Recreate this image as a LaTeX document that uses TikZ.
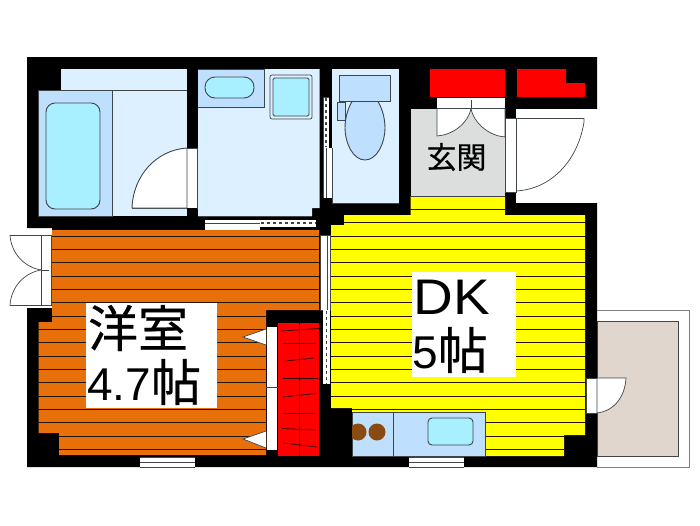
\documentclass[tikz,border=0pt]{standalone}
\usepackage{graphicx}
\usepackage{fontspec}
\setmainfont{Liberation Sans}
\newfontfamily\cjkjp[FakeBold=0.5]{Noto Sans CJK JP}
\definecolor{wetlight}{HTML}{DDF0FF}
\definecolor{wetmid}{HTML}{BFDFFF}
\definecolor{wetaqua}{HTML}{A8F0FF}
\definecolor{orangefloor}{HTML}{E8700A}
\definecolor{yellowfloor}{HTML}{FFFF00}
\definecolor{genkangray}{HTML}{DCDDDD}
\definecolor{balconyfill}{HTML}{E0D6CE}
\definecolor{linegray}{HTML}{404548}
\definecolor{burner}{HTML}{8B4A10}
\tikzset{
  wall/.style={fill=black,draw=none},
  fixture/.style={draw=linegray,line width=0.9pt},
  thinline/.style={draw=linegray,line width=0.7pt},
  boardline/.style={draw=black!85!orange,line width=0.8pt},
  dotline/.style={draw=linegray,line width=1.6pt,dash pattern=on 3pt off 3pt},
  hanger/.style={draw=black!80!red,line width=0.7pt}
}
\begin{document}
\begin{tikzpicture}[x=1pt,y=-1pt]
\useasboundingbox (0,0) rectangle (700,525);
% balcony
\draw[draw=gray,line width=1pt] (597,310) -- (689,310) -- (689,467) -- (597,467);
\draw[thinline,fill=balconyfill] (597,321) rectangle (678,456);
% black slab
\fill[wall] (27,57) -- (597,57) -- (597,109) -- (516,109) -- (516,203) -- (597,203) -- (597,467) -- (27,467) -- (27,308) -- (52,308) -- (52,228) -- (27,228) -- cycle;
% bath
\fill[wetlight] (61,69) rectangle (187,90);
\fill[wetlight] (38.5,90) rectangle (187,216);
\draw[thinline,fill=wetmid] (38.5,90) rectangle (112.5,216);
\draw[thinline] (112.5,90) -- (187,90);
\draw[fixture,fill=wetaqua,rounded corners=9pt] (46,103) rectangle (100,209);
% bath door
\fill[white] (186,148) rectangle (197,208);
\draw[thinline] (197,148) -- (197,208) -- (132,208);
\draw[fixture,fill=white] (187,148) .. controls (156,150) and (133,176) .. (132,208) -- (187,208) -- cycle;
\draw[thinline] (187,148) -- (197,148);
\fill[wall] (187,208) rectangle (197,216);
% washroom
\fill[wetlight] (198,69) -- (319.5,69) -- (319.5,208) -- (312,208) -- (312,216) -- (198,216) -- cycle;
\draw[thinline] (198,216) -- (312,216);
\draw[thinline,fill=wetmid] (198,69) -- (264,69) -- (264,107) -- (198,107);
\draw[fixture,fill=wetaqua,rounded corners=10pt] (205,77) rectangle (254,98);
\draw[thinline,rounded corners=2pt] (270,75) rectangle (312,119);
\draw[fixture,fill=wetaqua,rounded corners=1.5pt] (273,78) rectangle (309,116);
% wash/toilet sliding door
\fill[white] (323,97) rectangle (332,198);
\draw[thinline] (323,97) -- (332,97) (323,97) -- (323,198) (332,148) -- (332,198);
\fill[black] (329,91) rectangle (332,148);
\draw[dotline] (326,98) -- (326,147);
\draw[thinline] (326,148) -- (326,198);
% toilet
\fill[wetlight] (332,69) rectangle (399,203);
\draw[thinline] (332,148) -- (332,203) -- (399,203);
\draw[fixture,fill=wetmid] (365,160) .. controls (353,160) and (345,143) .. (345,128) .. controls (345,116) and (349,106) .. (353,100) -- (377,100) .. controls (381,106) and (385,116) .. (385,128) .. controls (385,143) and (377,160) .. (365,160) -- cycle;
\draw[fixture,fill=wetmid] (339.5,75) rectangle (390,101);
\draw[thinline,fill=wetmid] (337,102) rectangle (345,120);
% closets top
\fill[red] (430,69) rectangle (505,97);
\fill[red] (517,69) -- (566,69) -- (566,83) -- (585,83) -- (585,97) -- (517,97) -- cycle;
% yellow floor
\fill[yellowfloor] (410.5,196) -- (505,196) -- (505,215) -- (585,215) -- (585,435) -- (564,435) -- (564,456) -- (352,456) -- (352,408) -- (331,408) -- (331,225) -- (344,225) -- (344,215) -- (410.5,215) -- cycle;
\begin{scope}
  \clip (410.5,196) -- (505,196) -- (505,215) -- (585,215) -- (585,435) -- (564,435) -- (564,456) -- (352,456) -- (352,408) -- (331,408) -- (331,225) -- (344,225) -- (344,215) -- (410.5,215) -- cycle;
  \foreach \k in {0,...,19}{
    \pgfmathsetmacro{\yy}{196+13.33*\k}
    \draw[boardline] (320,\yy) -- (590,\yy);
  }
\end{scope}
% genkan
\fill[genkangray] (410.5,109) rectangle (505,196);
\draw[thinline] (410.5,196) -- (505,196);
\fill[white] (437,98) rectangle (505,109);
\draw[thinline] (437,108.5) -- (505,108.5);
\draw[thinline] (471,100) -- (471,108.5);
\draw[thinline,fill=white] (437,108.5) -- (437,136) .. controls (452,135) and (468,124) .. (471,108.5) -- cycle;
\draw[thinline,fill=white] (505,108.5) -- (505,137) .. controls (490,136) and (474,124) .. (471,108.5) -- cycle;
\node[font=\cjkjp\fontsize{30}{30}\selectfont,inner sep=0pt] (genkan) at (456.5,157) {玄関};
% entrance door
\fill[white] (516,109) rectangle (597,203);
\fill[white] (505.5,118) rectangle (516,192);
\draw[thinline] (505.5,118) rectangle (516,192);
\draw[thinline] (516,118) -- (584,118);
\draw[thinline] (584,118) -- (584,122) .. controls (578,160) and (552,189) .. (516,191);
% orange floor
\def\orangepath{(52,230) -- (319,230) -- (319,310) -- (266,310) -- (266,455) -- (59,455) -- (59,433) -- (38.5,433) -- (38.5,322) -- (52,322) -- cycle}
\fill[orangefloor] \orangepath;
\begin{scope}
  \clip \orangepath;
  \foreach \k in {3,...,19}{
    \pgfmathsetmacro{\yy}{196+13.33*\k}
    \draw[boardline] (30,\yy) -- (325,\yy);
  }
\end{scope}
% closet
\fill[red] (278,322.5) rectangle (319,456);
\draw[hanger] (299,322.5) -- (299,456);
\draw[hanger] (281,331) -- (319,328.5);
\draw[hanger] (283,343) -- (316,343);
\draw[hanger] (285,361) -- (314,358);
\draw[hanger] (283,378) -- (318,378);
\draw[hanger] (283,397) -- (316,393.5);
\draw[hanger] (283,413.5) -- (315,413.5);
\draw[hanger] (282,428.5) -- (315,430);
\draw[hanger] (283,443) -- (317,447);
\fill[white] (267,326.5) rectangle (277,450);
\draw[thinline] (266,387.5) -- (278,387.5);
\fill[white] (266,329) -- (243,337) -- (266,345) -- cycle;
\draw[thinline] (266,329) -- (243,337) -- (266,345);
\fill[white] (266,431) -- (243,439) -- (266,448) -- cycle;
\draw[thinline] (266,431) -- (243,439) -- (266,448);
% bottom sliding door
\fill[white] (205,220) rectangle (316,226.5);
\fill[white] (205,226) rectangle (260,229.5);
\draw[thinline] (205,223) -- (260,223);
\draw[dotline] (261,223) -- (316,223);
% orange/yellow sliding door
\fill[white] (320,235) rectangle (330,310);
\draw[thinline] (320,235) rectangle (330,310);
\draw[thinline] (327,235) -- (327,310);
\fill[white] (323,310) rectangle (329.5,384);
\draw[dotline] (326.5,311) -- (326.5,384);
% west double door
\fill[white] (41,235) rectangle (51,305);
\draw[thinline] (41,235) rectangle (51,305);
\draw[thinline] (41,270) -- (49,270);
\draw[thinline] (10,235) -- (41,235);
\draw[thinline] (10,305.5) -- (41,305.5);
\draw[thinline] (10,235) .. controls (11,253) and (24,267) .. (41,270);
\draw[thinline] (10,305.5) .. controls (11,287) and (24,273) .. (41,270);
% kitchen
\draw[thinline,fill=wetmid] (352,412) rectangle (485,456);
\draw[thinline] (393,412) -- (393,456);
\begin{scope}
  \clip (352,412) rectangle (393,456);
  \fill[burner] (358,432) circle[radius=8.5];
\end{scope}
\fill[burner] (377,432) circle[radius=8.5];
\draw[fixture,fill=wetaqua,rounded corners=4pt] (428,418) rectangle (473,445);
% south windows
\fill[white] (140,457) rectangle (195,467);
\draw[thinline] (140,457) -- (195,457) (140,462) -- (195,462) (140,467) -- (195,467);
\fill[white] (409,457) rectangle (464,467);
\draw[thinline] (409,457) -- (464,457) (409,462) -- (464,462) (409,467) -- (464,467);
% balcony door
\fill[white] (586,378) rectangle (597,413);
\draw[thinline] (586,378) rectangle (597,413);
\draw[thinline,fill=white] (597,378) -- (626,378) .. controls (625,397) and (614,411) .. (597,413) -- cycle;
% labels
\fill[white] (85.5,303) rectangle (217,408);
\node[font=\cjkjp\fontsize{50}{50}\selectfont,inner sep=0pt,anchor=center] (roomA) at (138,328) {洋室};
\node[font=\fontsize{46}{46}\selectfont,inner sep=0pt,anchor=west] (roomB) at (87,382) {4.7\cjkjp\fontsize{50}{50}\selectfont 帖};
\fill[white] (412,272) rectangle (516,377);
\node[font=\fontsize{50}{50}\selectfont,inner sep=0pt,anchor=center] (roomC) at (452,297) {\scalebox{1.1}[1]{DK}};
\node[font=\fontsize{46}{46}\selectfont,inner sep=0pt,anchor=center] (roomD) at (450,350) {5\cjkjp\fontsize{50}{50}\selectfont 帖};
\end{tikzpicture}
\end{document}
